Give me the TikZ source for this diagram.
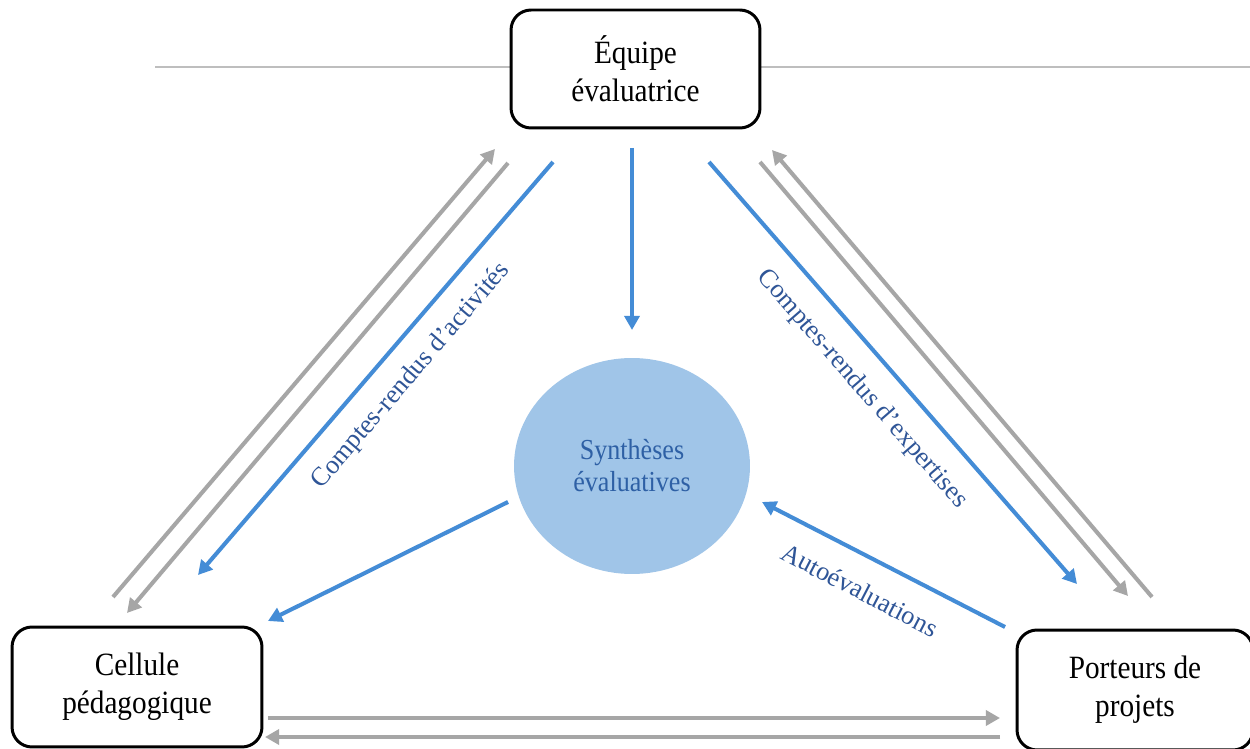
\documentclass[tikz,border=0pt]{standalone}
\usepackage{fontspec}
\setmainfont{Liberation Serif}
\newfontfamily\tallserif[FakeStretch=0.9]{Liberation Serif}
\usetikzlibrary{arrows.meta,shapes.geometric}
\definecolor{arrblue}{RGB}{68,140,214}
\definecolor{arrgray}{RGB}{166,166,166}
\definecolor{fillblue}{RGB}{160,197,232}
\definecolor{txtblue}{RGB}{46,96,165}
\definecolor{lblblue}{RGB}{47,85,151}
\definecolor{rulegray}{RGB}{190,190,190}
\begin{document}
\begin{tikzpicture}[x=0.02cm,y=-0.02cm,
 box/.style={draw=black, line width=1.7pt, rounded corners=0.4cm, fill=white, align=center, font=\tallserif\fontsize{18.5}{21.5}\selectfont, inner sep=0pt},
 bluearr/.style={draw=arrblue, line width=2.3pt, -{Triangle[length=8pt,width=8.5pt]}},
 grayarr/.style={draw=arrgray, line width=2.3pt, -{Triangle[length=8pt,width=8.5pt]}},
 lbl/.style={text=lblblue, font=\fontsize{15}{18}\selectfont, inner sep=0pt}]
\clip (0,0) rectangle (1250,749);
\fill[white] (0,0) rectangle (1250,749);
% horizontal rule
\coordinate (r1) at (155,67);
\coordinate (r2) at (1250,67);
\draw[rulegray, line width=0.8pt] (r1) -- (r2);
% boxes
\node[box, minimum width=4.98cm, minimum height=2.36cm] (top) at (635.5,69) {Équipe\\évaluatrice};
\node[box, minimum width=5.0cm, minimum height=2.4cm] (left) at (137,687) {Cellule\\pédagogique};
\node[box, minimum width=4.72cm, minimum height=2.4cm] (right) at (1135,690) {Porteurs de\\projets};
\node[ellipse, fill=fillblue, minimum width=4.72cm, minimum height=4.32cm, inner sep=0pt, align=center, text=txtblue, font=\tallserif\fontsize{16.5}{18.2}\selectfont] (syn) at (632,466) {Synthèses\\évaluatives};
% endpoints
\coordinate (tb1) at (632,148);  \coordinate (tb2) at (632,330);
\coordinate (lb1) at (553,162);  \coordinate (lb2) at (198,575);
\coordinate (rb1) at (709,162);  \coordinate (rb2) at (1077,584);
\coordinate (cb1) at (508,502);  \coordinate (cb2) at (268,621);
\coordinate (ab1) at (1005,627); \coordinate (ab2) at (762,502);
\coordinate (lgu1) at (113,597); \coordinate (lgu2) at (495,149);
\coordinate (lgd1) at (508,163); \coordinate (lgd2) at (127,613);
\coordinate (rgu1) at (1152,597); \coordinate (rgu2) at (772,150);
\coordinate (rgd1) at (760,162); \coordinate (rgd2) at (1128,596);
\coordinate (bg1) at (268,718);  \coordinate (bg2) at (1000,718);
\coordinate (bg3) at (1000,737); \coordinate (bg4) at (265,737);
% blue arrows
\draw[bluearr] (tb1) -- (tb2);
\draw[bluearr] (lb1) -- (lb2);
\draw[bluearr] (rb1) -- (rb2);
\draw[bluearr] (cb1) -- (cb2);
\draw[bluearr] (ab1) -- (ab2);
% gray arrows
\draw[grayarr] (lgu1) -- (lgu2);
\draw[grayarr] (lgd1) -- (lgd2);
\draw[grayarr] (rgu1) -- (rgu2);
\draw[grayarr] (rgd1) -- (rgd2);
\draw[grayarr] (bg1) -- (bg2);
\draw[grayarr] (bg3) -- (bg4);
% labels
\node[lbl, rotate=49.3] (l1) at (411,376) {Comptes-rendus d’activités};
\node[lbl, rotate=-49] (l2) at (862,389) {Comptes-rendus d’expertises};
\node[lbl, rotate=-27.5] (l3) at (860,590) {Autoévaluations};
\end{tikzpicture}
\end{document}
